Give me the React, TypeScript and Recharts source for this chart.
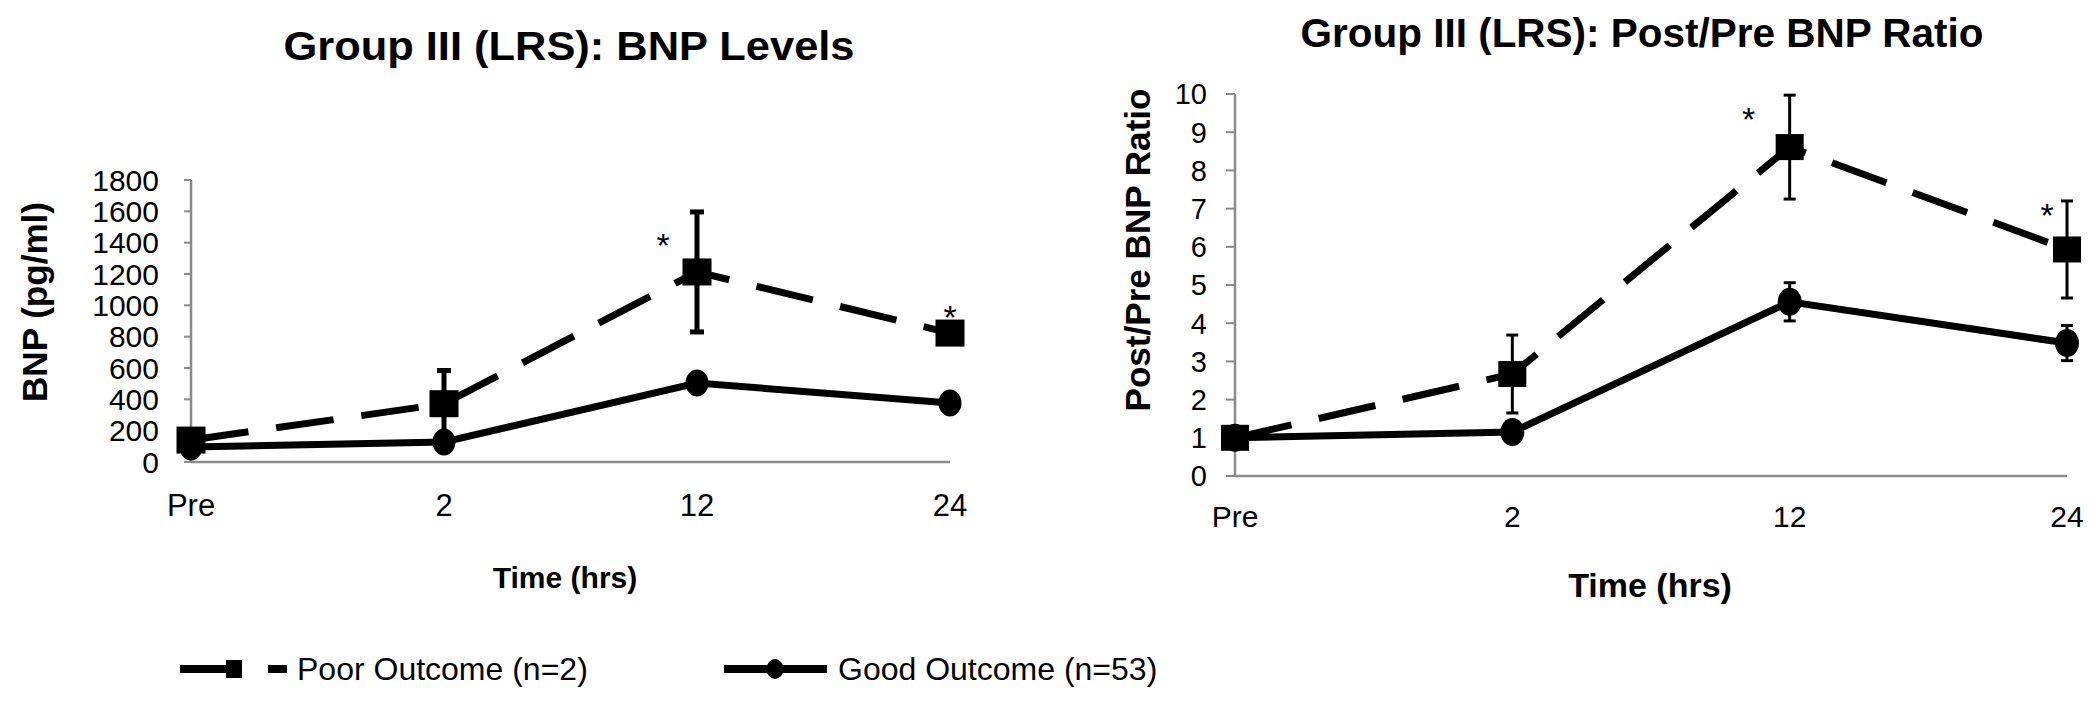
import React from 'react';
import { LineChart, Line, XAxis, YAxis, ErrorBar, LabelList } from 'recharts';

const FONT = "'Liberation Sans', Arial, Helvetica, sans-serif";
const AXIS_GRAY = '#8a8a8a';

const timePoints = ['Pre', '2', '12', '24'];

// BNP levels (pg/ml)
const bnpPoor = [140, 372, 1213, 823];
const bnpPoorErr = [30, 212, 383, 40];
const bnpGood = [96, 128, 504, 377];
const bnpGoodErr = [15, 20, 35, 25];
const bnpStar = [false, false, true, true];
const bnpTicks = [0, 200, 400, 600, 800, 1000, 1200, 1400, 1600, 1800];

// post/pre BNP ratio
const ratioPoor = [1, 2.67, 8.61, 5.93];
const ratioPoorErr = [0, 1.02, 1.36, 1.27];
const ratioGood = [1, 1.15, 4.56, 3.48];
const ratioGoodErr = [0, 0.08, 0.5, 0.46];
const ratioStar = [false, false, true, true];
const ratioTicks = [0, 1, 2, 3, 4, 5, 6, 7, 8, 9, 10];

// where the asterisk sits relative to the point (px)
const bnpStarOffset = [[0, 0], [0, 0], [-34, -34], [0, -23]];
const ratioStarOffset = [[0, 0], [0, 0], [-41, -35], [-20, -41]];

const bnpData = timePoints.map((t, i) => ({
  time: t,
  poor: bnpPoor[i],
  poorErr: bnpPoorErr[i],
  good: bnpGood[i],
  goodErr: bnpGoodErr[i],
}));

const ratioData = timePoints.map((t, i) => ({
  time: t,
  poor: ratioPoor[i],
  poorErr: ratioPoorErr[i],
  good: ratioGood[i],
  goodErr: ratioGoodErr[i],
}));

const squareDot = (w: number, h: number) => (props: any) => {
  const { cx, cy, index } = props;
  if (cx == null || cy == null) return <g key={`sq-${index}`} />;
  return <rect key={`sq-${index}`} x={cx - w / 2} y={cy - h / 2} width={w} height={h} fill="#000" />;
};

const ellipseDot = (rx: number, ry: number) => (props: any) => {
  const { cx, cy, index } = props;
  if (cx == null || cy == null) return <g key={`el-${index}`} />;
  return <ellipse key={`el-${index}`} cx={cx} cy={cy} rx={rx} ry={ry} fill="#000" />;
};

const YTick = (props: any) => {
  const { x, y, payload, fontSize } = props;
  return (
    <text x={x} y={y} dy="0.36em" textAnchor="end" fontSize={fontSize} fontFamily={FONT} fill="#000">
      {payload.value}
    </text>
  );
};

const XTick = (props: any) => {
  const { x, y, payload, fontSize } = props;
  return (
    <text x={x} y={y} textAnchor="middle" fontSize={fontSize} fontFamily={FONT} fill="#000">
      {payload.value}
    </text>
  );
};

const starLabel = (values: number[], flags: boolean[], offsets: number[][]) => (props: any) => {
  let i = props.index;
  if (i == null) i = values.indexOf(props.value);
  if (i < 0 || !flags[i]) return null;
  const x = props.x ?? props.viewBox?.x;
  const y = props.y ?? props.viewBox?.y;
  const [dx, dy] = offsets[i];
  return (
    <text key={`star-${i}`} x={x + dx} y={y + dy + 19} textAnchor="middle" fontSize={34} fontFamily={FONT} fill="#000">
      *
    </text>
  );
};

function BnpChart() {
  return (
    <LineChart width={1000} height={620} data={bnpData} margin={{ top: 180, right: 50, bottom: 78, left: 91 }}>
      <XAxis
        dataKey="time"
        height={80}
        tickSize={0}
        tickMargin={54}
        tickLine={false}
        axisLine={{ stroke: AXIS_GRAY, strokeWidth: 2.5 }}
        tick={<XTick fontSize={31} />}
      />
      <YAxis
        width={100}
        domain={[0, 1800]}
        ticks={bnpTicks}
        interval={0}
        tickSize={7}
        tickMargin={25}
        axisLine={{ stroke: AXIS_GRAY, strokeWidth: 2.5 }}
        tickLine={{ stroke: AXIS_GRAY, strokeWidth: 2 }}
        tick={<YTick fontSize={30} />}
      />
      <Line dataKey="good" stroke="#000" strokeWidth={7} dot={ellipseDot(11.5, 13.5)} isAnimationActive={false}>
        <ErrorBar dataKey="goodErr" width={7} strokeWidth={5} stroke="#000" direction="y" />
      </Line>
      <Line
        dataKey="poor"
        stroke="#000"
        strokeWidth={7}
        strokeDasharray="58 28"
        dot={squareDot(29, 27)}
        isAnimationActive={false}
      >
        <ErrorBar dataKey="poorErr" width={7} strokeWidth={5} stroke="#000" direction="y" />
        <LabelList dataKey="poor" content={starLabel(bnpPoor, bnpStar, bnpStarOffset)} />
      </Line>
    </LineChart>
  );
}

function RatioChart() {
  return (
    <LineChart width={1050} height={620} data={ratioData} margin={{ top: 94, right: 33, bottom: 64, left: 85 }}>
      <XAxis
        dataKey="time"
        height={80}
        tickSize={0}
        tickMargin={51}
        tickLine={false}
        axisLine={{ stroke: AXIS_GRAY, strokeWidth: 2.5 }}
        tick={<XTick fontSize={30} />}
      />
      <YAxis
        width={100}
        domain={[0, 10]}
        ticks={ratioTicks}
        interval={0}
        tickSize={9}
        tickMargin={19}
        axisLine={{ stroke: AXIS_GRAY, strokeWidth: 2.5 }}
        tickLine={{ stroke: AXIS_GRAY, strokeWidth: 2 }}
        tick={<YTick fontSize={29} />}
      />
      <Line dataKey="good" stroke="#000" strokeWidth={7} dot={ellipseDot(12, 14)} isAnimationActive={false}>
        <ErrorBar dataKey="goodErr" width={6} strokeWidth={3} stroke="#000" direction="y" />
      </Line>
      <Line
        dataKey="poor"
        stroke="#000"
        strokeWidth={7}
        strokeDasharray="58 28"
        dot={squareDot(28, 26)}
        isAnimationActive={false}
      >
        <ErrorBar dataKey="poorErr" width={6} strokeWidth={3} stroke="#000" direction="y" />
        <LabelList dataKey="poor" content={starLabel(ratioPoor, ratioStar, ratioStarOffset)} />
      </Line>
    </LineChart>
  );
}

export default function App() {
  return (
    <div style={{ position: 'absolute', left: 0, top: 0, width: 2100, height: 703, background: '#fff', overflow: 'hidden' }}>
      <div style={{ position: 'absolute', left: 0, top: 0 }}>
        <BnpChart />
      </div>
      <div style={{ position: 'absolute', left: 1050, top: 0 }}>
        <RatioChart />
      </div>
      <svg
        width={2100}
        height={703}
        style={{ position: 'absolute', left: 0, top: 0, pointerEvents: 'none' }}
        fontFamily={FONT}
      >
        <text x={569} y={60} textAnchor="middle" fontSize={40} fontWeight="bold" textLength={571} lengthAdjust="spacingAndGlyphs">
          Group III (LRS): BNP Levels
        </text>
        <text x={1642} y={47} textAnchor="middle" fontSize={40} fontWeight="bold" textLength={683} lengthAdjust="spacingAndGlyphs">
          Group III (LRS): Post/Pre BNP Ratio
        </text>
        <text transform="rotate(-90 47 302)" x={47} y={302} textAnchor="middle" fontSize={35} fontWeight="bold" textLength={200} lengthAdjust="spacingAndGlyphs">
          BNP (pg/ml)
        </text>
        <text transform="rotate(-90 1150 250)" x={1150} y={250} textAnchor="middle" fontSize={35} fontWeight="bold" textLength={323} lengthAdjust="spacingAndGlyphs">
          Post/Pre BNP Ratio
        </text>
        <text x={565} y={588} textAnchor="middle" fontSize={30} fontWeight="bold">
          Time (hrs)
        </text>
        <text x={1650} y={597} textAnchor="middle" fontSize={34} fontWeight="bold">
          Time (hrs)
        </text>

        {/* legend */}
        <line x1={180} y1={669} x2={287} y2={669} stroke="#000" strokeWidth={8} strokeDasharray="60 28" />
        <rect x={226} y={660} width={16} height={18} fill="#000" />
        <text x={297} y={680} fontSize={32}>Poor Outcome (n=2)</text>
        <line x1={724} y1={669} x2={827} y2={669} stroke="#000" strokeWidth={8} />
        <ellipse cx={775} cy={669} rx={8.5} ry={10} fill="#000" />
        <text x={838} y={680} fontSize={32}>Good Outcome (n=53)</text>
      </svg>
    </div>
  );
}
